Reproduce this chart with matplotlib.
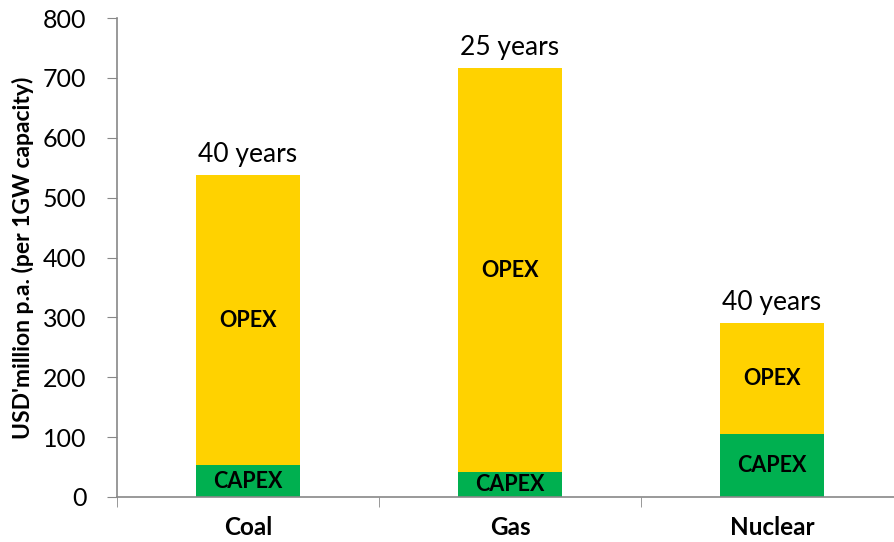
import numpy as np
import matplotlib.pyplot as plt

plt.rcParams['font.family'] = ['Lato', 'DejaVu Sans']

# data
categories = ['Coal', 'Gas', 'Nuclear']
capex = [53, 41, 106]
opex = [485, 675, 184]
lifetimes = ['40 years', '25 years', '40 years']

fig = plt.figure(figsize=(8.95, 5.42), dpi=100)
ax = fig.add_axes([117 / 895, 45 / 542, 786 / 895, 479 / 542])

x = np.arange(len(categories))
ax.bar(x, capex, width=0.4, color='#00B050')
ax.bar(x, opex, width=0.4, bottom=capex, color='#FFD200')

for i in range(len(categories)):
    total = capex[i] + opex[i]
    ax.text(x[i], capex[i] / 2, 'CAPEX', ha='center', va='center',
            fontsize=15.5, fontweight='bold')
    ax.text(x[i], capex[i] + opex[i] / 2, 'OPEX', ha='center', va='center',
            fontsize=15.5, fontweight='bold')
    ax.annotate(lifetimes[i], (x[i], total), xytext=(0, 6),
                textcoords='offset points', ha='center', va='bottom', fontsize=19)

ax.set_xlim(-0.5, 2.5)
ax.set_ylim(0, 800)
ax.set_yticks(range(0, 801, 100))
ax.tick_params(axis='y', labelsize=18, length=7, color='#888888', pad=15)
ax.set_xticks(x)
ax.set_xticklabels(categories, fontsize=17.5, fontweight='bold')
ax.tick_params(axis='x', which='major', length=0, pad=14)
ax.set_xticks([-0.5, 0.5, 1.5, 2.5], minor=True)
ax.tick_params(axis='x', which='minor', length=7, color='#888888')

for s in ['top', 'right']:
    ax.spines[s].set_visible(False)
for s in ['left', 'bottom']:
    ax.spines[s].set_color('#888888')
    ax.spines[s].set_linewidth(1.2)

ax.set_ylabel("USD'million p.a. (per 1GW capacity)", fontsize=16.5, fontweight='bold', labelpad=6)

fig.savefig('out.png', dpi=100)
